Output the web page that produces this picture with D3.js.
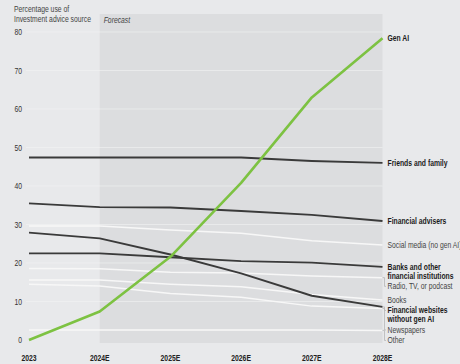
<!DOCTYPE html>
<html>
<head>
<meta charset="utf-8">
<script src="https://cdn.jsdelivr.net/npm/d3@7"></script>
<style>
  html, body { margin: 0; padding: 0; background: #e8e9eb; }
  svg { display: block; font-family: "Liberation Sans", Arial, sans-serif; }
</style>
</head>
<body>
<div id="chart"></div>
<script>
// --- data ---
const years = ["2023", "2024E", "2025E", "2026E", "2027E", "2028E"];
const yTicks = [0, 10, 20, 30, 40, 50, 60, 70, 80];

const genAI = [0, 7.4, 21.6, 40.8, 63, 78.4];
const friendsFamily = [47.4, 47.4, 47.4, 47.4, 46.5, 46];
const advisers = [35.5, 34.5, 34.4, 33.5, 32.5, 30.9];
const socialMedia = [29.6, 29.6, 28.6, 27.7, 25.8, 24.7];
const banks = [22.5, 22.5, 21.5, 20.5, 20.1, 19.0];
const radioTv = [18.6, 18.5, 17.6, 17.4, 16.6, 16.2];
const books = [15.6, 15.6, 14.5, 13.8, 11.8, 10.4];
const finWebsites = [27.9, 26.4, 22.2, 17.3, 11.5, 8.6];
const newspapers = [14.5, 14.0, 12.1, 11.1, 8.8, 8.2];
const other = [2.6, 2.6, 2.6, 2.6, 2.6, 2.5];

// label order top -> bottom
const series = [
  { name: ["Gen AI"], values: genAI, kind: "green" },
  { name: ["Friends and family"], values: friendsFamily, kind: "dark" },
  { name: ["Financial advisers"], values: advisers, kind: "dark" },
  { name: ["Social media (no gen AI)"], values: socialMedia, kind: "white" },
  { name: ["Banks and other", "financial institutions"], values: banks, kind: "dark" },
  { name: ["Radio, TV, or podcast"], values: radioTv, kind: "white" },
  { name: ["Books"], values: books, kind: "white" },
  { name: ["Financial websites", "without gen AI"], values: finWebsites, kind: "dark" },
  { name: ["Newspapers"], values: newspapers, kind: "white" },
  { name: ["Other"], values: other, kind: "white" }
];

const width = 460, height = 364;
const SQUEEZE = 0.8; // condensed look

const svg = d3.select("#chart").append("svg")
  .attr("width", width)
  .attr("height", height);

svg.append("rect").attr("width", width).attr("height", height).attr("fill", "#e8e9eb");

// helper: condensed text at (px, py)
function ctext(parent, px, py, anchor) {
  return parent.append("text")
    .attr("transform", `translate(${px},${py}) scale(${SQUEEZE},1)`)
    .attr("text-anchor", anchor || "start");
}

const x = d3.scalePoint().domain(years).range([29, 382.5]);
const y = d3.scaleLinear().domain([0, 80]).range([340, 32]);

// forecast shading
svg.append("rect")
  .attr("x", x("2024E"))
  .attr("y", 14)
  .attr("width", x("2028E") - x("2024E"))
  .attr("height", 343 - 14)
  .attr("fill", "#dcdddf");

ctext(svg, x("2024E") + 4, 23)
  .attr("font-size", "8.5px")
  .attr("font-style", "italic")
  .attr("fill", "#444")
  .text("Forecast");

// title
ctext(svg, 14, 12)
  .attr("font-size", "8.5px")
  .attr("fill", "#444")
  .selectAll("tspan")
  .data(["Percentage use of", "Investment advice source"])
  .join("tspan")
  .attr("x", 0)
  .attr("dy", (d, i) => i === 0 ? 0 : 10)
  .text(d => d);

// gridlines
svg.append("g")
  .selectAll("line")
  .data(yTicks.filter(d => d > 0))
  .join("line")
  .attr("x1", 26)
  .attr("x2", x("2028E"))
  .attr("y1", d => y(d))
  .attr("y2", d => y(d))
  .attr("stroke", "#f2f3f4")
  .attr("stroke-opacity", 0.6)
  .attr("stroke-width", 1);

// y axis labels
const yAxisG = svg.append("g");
yTicks.forEach(d => {
  ctext(yAxisG, 22, y(d) + 3, "end")
    .attr("font-size", "8.5px")
    .attr("fill", "#333")
    .text(d);
});

// x axis labels
const xAxisG = svg.append("g");
years.forEach(d => {
  ctext(xAxisG, x(d), 361, "middle")
    .attr("font-size", "8.5px")
    .attr("font-weight", "bold")
    .attr("fill", "#222")
    .text(d);
});

const line = d3.line()
  .x((d, i) => x(years[i]))
  .y(d => y(d));

const style = {
  white: { stroke: "#f7f7f7", width: 1.5 },
  dark: { stroke: "#3a3a3a", width: 1.9 },
  green: { stroke: "#7dc242", width: 2.6 }
};

["white", "dark", "green"].forEach(kind => {
  svg.append("g")
    .selectAll("path")
    .data(series.filter(s => s.kind === kind))
    .join("path")
    .attr("d", s => line(s.values))
    .attr("fill", "none")
    .attr("stroke", style[kind].stroke)
    .attr("stroke-width", style[kind].width)
    .attr("stroke-linejoin", "round");
});

// --- right labels with simple collision avoidance ---
const lineH = 9, gap = 10.5;
const xEnd = x("2028E");
let prevBottom = -Infinity;
series.forEach(s => {
  const yLine = y(s.values[s.values.length - 1]);
  const yLab = Math.max(yLine, prevBottom + gap);
  prevBottom = yLab + (s.name.length - 1) * lineH;
  s.yLine = yLine;
  s.yLab = yLab;
});

const labels = svg.append("g");

labels.selectAll("path")
  .data(series.filter(s => Math.abs(s.yLab - s.yLine) > 2))
  .join("path")
  .attr("d", s => `M${xEnd},${s.yLine}H${xEnd + 2}V${s.yLab}H${xEnd + 3.5}`)
  .attr("fill", "none")
  .attr("stroke", "#b5b6b8")
  .attr("stroke-width", 0.8);

series.forEach(s => {
  ctext(labels, xEnd + 5, s.yLab + 3)
    .attr("font-size", "8.5px")
    .attr("font-weight", s.kind === "white" ? "normal" : "bold")
    .attr("fill", s.kind === "white" ? "#444" : "#1a1a1a")
    .selectAll("tspan")
    .data(s.name)
    .join("tspan")
    .attr("x", 0)
    .attr("dy", (d, i) => i === 0 ? 0 : lineH)
    .text(d => d);
});
</script>
</body>
</html>
